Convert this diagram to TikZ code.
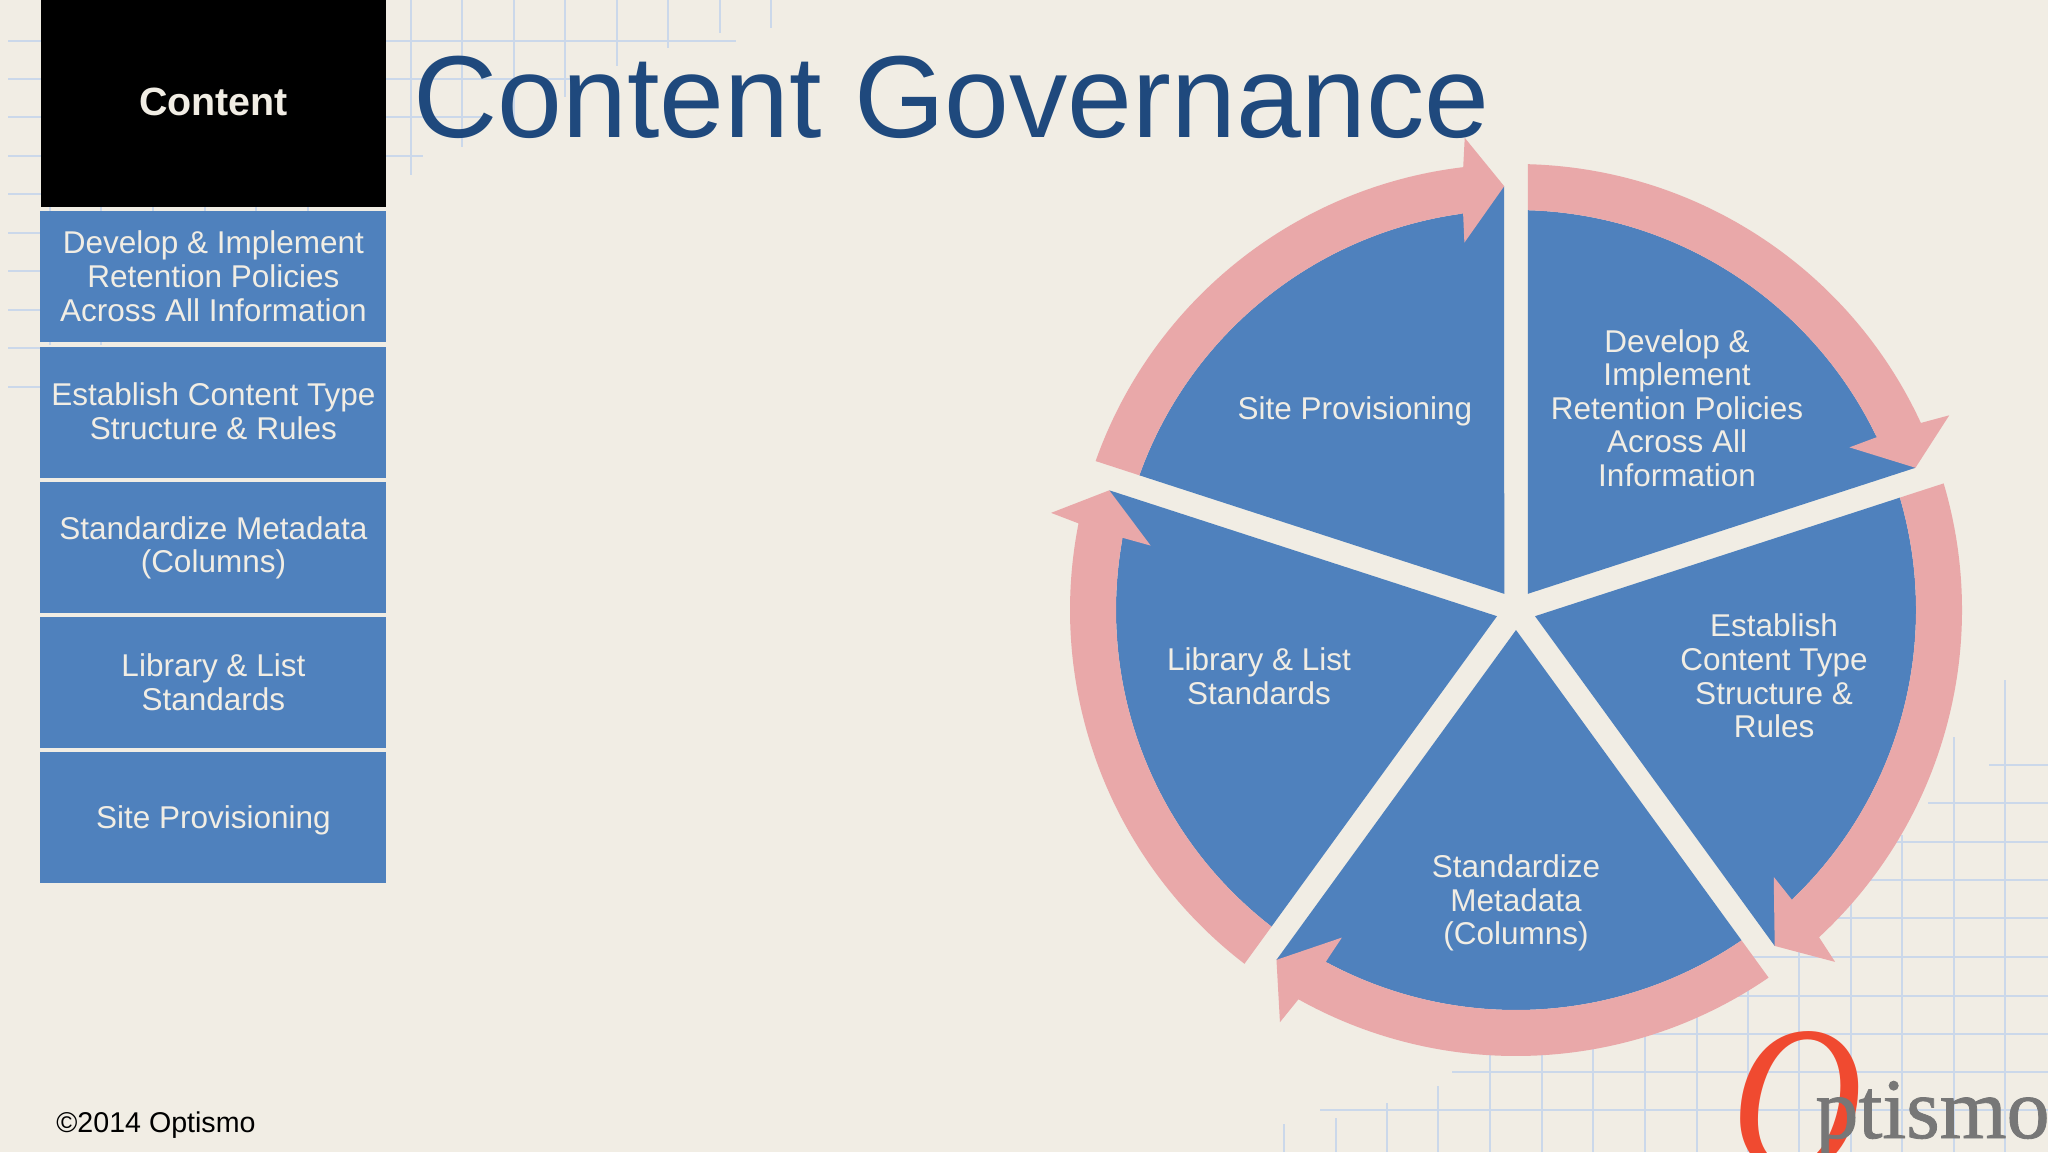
\documentclass[tikz,border=0pt]{standalone}
\usepackage{fontspec}
\usetikzlibrary{calc}
\setmainfont{Liberation Sans}
\newfontface\logoO{Liberation Serif Italic}
\newfontface\logoT[FakeBold=1]{Liberation Serif}
\definecolor{bgc}{HTML}{F1EDE4}
\definecolor{gridc}{HTML}{CBD8EA}
\definecolor{boxc}{HTML}{4F81BD}
\definecolor{ringc}{HTML}{E9A8A9}
\definecolor{titlec}{HTML}{1F497D}
\definecolor{redc}{HTML}{F04A30}
\definecolor{grayc}{HTML}{777777}
\tikzset{
  gridline/.style={draw=gridc,line width=1pt},
  sidebox/.style={fill=boxc,draw=none,minimum width=173pt,minimum height=65.5pt,inner sep=0pt,anchor=north west},
  label/.style={text=bgc,align=center,inner sep=0pt,font=\fontsize{15.75}{16.8}\selectfont},
  wedgeshape/.style={fill=boxc,draw=none},
  bandshape/.style={fill=ringc,draw=none}
}
\begin{document}
\begin{tikzpicture}[x=0.5pt,y=0.5pt]
\useasboundingbox (0,0) rectangle (2048,-1152);
\clip (0,0) rectangle (2048,-1152);
\fill[bgc] (0,0) rectangle (2048,-1152);
% grid top-left: horizontals
\foreach \yy/\xx in {41/736,79/570,117/492,156/423,194/45,233/45,271/45,310/45,348/45,387/45}
  \draw[gridline] (8,-\yy) -- (\xx,-\yy);
\foreach \xx/\yy in {50/345,101/345,153/212,205/212,256/212,308/212,411/175,462/147,514/120,565/97,617/66,668/48,720/33,771/28}
  \draw[gridline] (\xx,0) -- (\xx,-\yy);
% grid bottom-right
\foreach \yy/\xx in {765/1989,803/1928,842/1880,880/1850,918/1800,957/1750,996/1700,1034/1640,1072/1452,1110/1320}
  \draw[gridline] (\xx,-\yy) -- (2048,-\yy);
\foreach \xx/\yy in {1284/1124,1336/1118,1387/1103,1438/1086,1490/1040,1542/1040,1593/1040,1645/1030,1697/1000,1748/980,1799/950,1851/900,1902/835,1954/737,2005/680}
  \draw[gridline] (\xx,-\yy) -- (\xx,-1152);
% side column
\fill[black] (41,0) rectangle (386,-207);
\node[text=bgc,font=\fontsize{19.7}{22}\selectfont\bfseries,inner sep=0pt] (head) at (213.5,-102) {Content};
\node[sidebox] (b1) at (40,-211) {};
\node[sidebox] (b2) at (40,-346.5) {};
\node[sidebox] (b3) at (40,-482) {};
\node[sidebox] (b4) at (40,-616.5) {};
\node[sidebox] (b5) at (40,-752) {};
\node[label] (t1) at ($(b1.center)+(0,0.6)$) {Develop \& Implement\\Retention Policies\\Across All Information};
\node[label] (t2) at ($(b2.center)+(0,1)$) {Establish Content Type\\Structure \& Rules};
\node[label] (t3) at (b3.center) {Standardize Metadata\\(Columns)};
\node[label] (t4) at (b4.center) {Library \& List\\Standards};
\node[label] (t5) at ($(b5.center)+(0,-2.6)$) {Site Provisioning};
% title
\node[text=titlec,font=\fontsize{58.3}{60}\selectfont,anchor=base west,inner sep=0pt] (title) at (413,-137) {Content Governance};
% pie
\begin{scope}[shift={(1516,-610)}]
\foreach \i in {0,1,2,3,4}{
  \begin{scope}[rotate={-72*\i}]
    \fill[wedgeshape] (54:20) -- (88.32:400) arc[start angle=88.32,end angle=26,radius=400] -- (19.6:424) -- cycle;
  \end{scope}
}
\foreach \i in {0,1,2,3,4}{
  \begin{scope}[rotate={-72*\i}]
    \fill[bandshape] (88.49:446) arc[start angle=88.49,end angle=24.8,radius=446] -- (24.2:475) -- (19.6:424) -- (26:371) -- (25.6:400) arc[start angle=25.6,end angle=88.32,radius=400] -- cycle;
  \end{scope}
}
\end{scope}
\node[label] (p1) at (1677,-408) {Develop \&\\Implement\\Retention Policies\\Across All\\Information};
\node[label] (p2) at (1774,-676) {Establish\\Content Type\\Structure \&\\Rules};
\node[label] (p3) at (1516,-903) {Standardize\\Metadata\\(Columns)};
\node[label] (p4) at (1259,-676) {Library \& List\\Standards};
\node[label] (p5) at (1355,-411.6) {Site Provisioning};
% footer
\node[text=black,font=\fontsize{14.3}{15}\selectfont,anchor=base west,inner sep=0pt] (copy) at (56,-1132) {©2014 Optismo};
% logo
\node[text=redc,font=\logoO\fontsize{91}{95}\selectfont,anchor=base west,inner sep=0pt,yscale=1.17,transform shape] (logoa) at (1731,-1172) {O};
\node[text=grayc,font=\logoT\fontsize{43}{46}\selectfont,anchor=base west,inner sep=0pt] (logob) at (1815,-1138) {ptismo};
\end{tikzpicture}
\end{document}
